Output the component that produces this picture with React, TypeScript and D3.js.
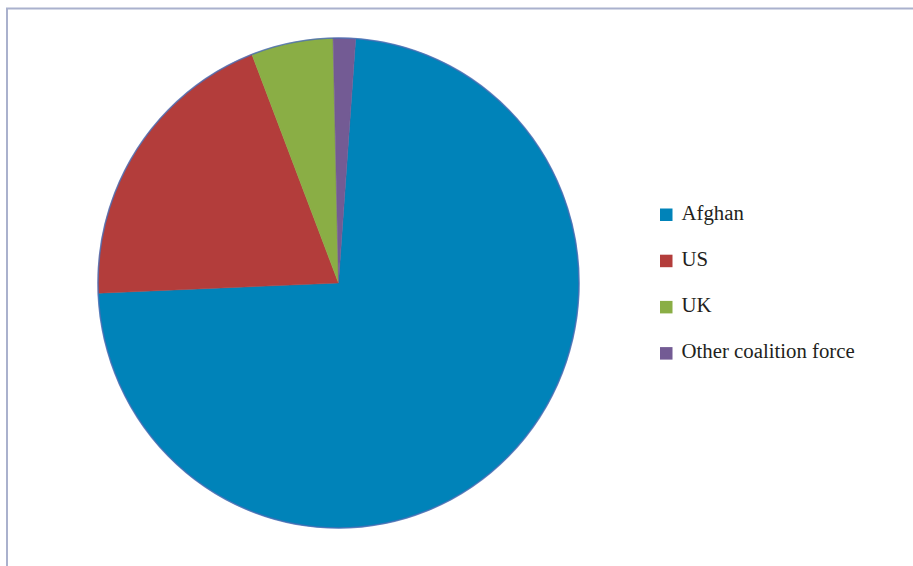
import React from "react";
import * as d3 from "d3";

const categories = ["Afghan", "US", "UK", "Other coalition force"];
const values = [73.2, 19.8, 5.5, 1.5];
const colors = ["#0083b9", "#b33d3b", "#8aae45", "#735b94"];

const W = 913;
const H = 566;
const cx = 338.5;
const cy = 283;
const rx = 240.5;
const ry = 245;
const startDeg = 4.1;

export default function App() {
  const pie = d3
    .pie<number>()
    .sort(null)
    .value((d) => d)
    .startAngle((startDeg * Math.PI) / 180)
    .endAngle(((startDeg + 360) * Math.PI) / 180);
  const arcs = pie(values);
  const arc = d3.arc<d3.PieArcDatum<number>>().innerRadius(0).outerRadius(rx);

  const legendX = 660;
  const legendY0 = 219.5;
  const legendStep = 46.2;

  return (
    <svg
      width={W}
      height={H}
      style={{ position: "absolute", left: 0, top: 0, background: "#fff" }}
    >
      <rect x={7} y={8.5} width={W + 20} height={H + 20} fill="#fff" stroke="#aab1cd" strokeWidth={2} />
      <g transform={`translate(${cx},${cy}) scale(1,${ry / rx})`}>
        {arcs.map((a, i) => (
          <path key={i} d={arc(a) || ""} fill={colors[i]} stroke={colors[i]} strokeWidth={0.5} />
        ))}
        <ellipse cx={0} cy={0} rx={rx} ry={rx} fill="none" stroke="#4a6cb3" strokeWidth={1.6} strokeOpacity={0.8} />
      </g>
      {categories.map((c, i) => (
        <g key={c} transform={`translate(${legendX},${legendY0 + i * legendStep})`}>
          <rect x={0} y={-11} width={12.5} height={12.5} fill={colors[i]} />
          <text x={21.5} y={0} fontFamily="'Liberation Serif', 'Times New Roman', serif" fontSize={20.8} fill="#231f20">
            {c}
          </text>
        </g>
      ))}
    </svg>
  );
}
